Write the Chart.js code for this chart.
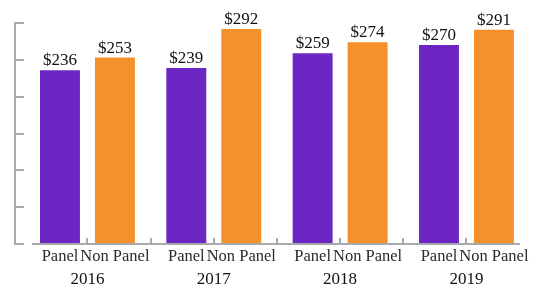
<!DOCTYPE html>
<html>
<head>
<meta charset="utf-8">
<script src="https://cdn.jsdelivr.net/npm/chart.js@4"></script>
<style>
  html, body { margin: 0; padding: 0; background: #ffffff; }
  #wrap { width: 538px; height: 289px; }
</style>
</head>
<body>
<div id="wrap"><canvas id="chart" width="538" height="289"></canvas></div>
<script>
// values
const years = ['2016', '2017', '2018', '2019'];
const groupNames = ['Panel', 'Non Panel'];
const panelValues = [236, 239, 259, 270];
const nonPanelValues = [253, 292, 274, 291];
const yMax = 300;
const yStep = 50;

const PURPLE = '#6c26c3';
const ORANGE = '#f4912a';
const AXIS = '#a9a9ad';

const CAT_PCT = 0.87;
const BAR_PCT = 0.727;
const subOffset = CAT_PCT / 4; // where each bar of a pair sits

Chart.defaults.font.family = '"Liberation Serif", "Times New Roman", serif';

// value labels above the bars ("$236")
const valueLabels = {
  id: 'valueLabels',
  afterDatasetsDraw(chart) {
    const ctx = chart.ctx;
    ctx.save();
    ctx.font = '17px "Liberation Serif", serif';
    ctx.fillStyle = '#111111';
    ctx.textAlign = 'center';
    ctx.textBaseline = 'alphabetic';
    chart.data.datasets.forEach((ds, di) => {
      chart.getDatasetMeta(di).data.forEach((bar, i) => {
        ctx.fillText('$' + ds.data[i].y, bar.x, bar.y - 5);
      });
    });
    ctx.restore();
  }
};

const xMin = -0.431, xMax = 3.416;

// small marks on the x axis line: centre of each pair and between pairs
const markValues = [];
years.forEach((y, i) => {
  markValues.push(i);
  if (i < years.length - 1) markValues.push(i + 0.5);
});

new Chart(document.getElementById('chart'), {
  type: 'bar',
  data: {
    datasets: [
      {
        label: groupNames[0],
        data: panelValues.map((v, i) => ({ x: i, y: v })),
        backgroundColor: PURPLE,
        xAxisID: 'x',
        yAxisID: 'y'
      },
      {
        label: groupNames[1],
        data: nonPanelValues.map((v, i) => ({ x: i, y: v })),
        backgroundColor: ORANGE,
        xAxisID: 'x',
        yAxisID: 'y'
      }
    ]
  },
  options: {
    responsive: false,
    animation: false,
    categoryPercentage: CAT_PCT,
    barPercentage: BAR_PCT,
    layout: { padding: { top: 23, left: 33, right: 19, bottom: 0 } },
    plugins: {
      legend: { display: false },
      tooltip: { enabled: false }
    },
    scales: {
      x: {
        type: 'linear',
        position: 'bottom',
        weight: 1,
        offset: false,
        min: xMin,
        max: xMax,
        afterBuildTicks: (scale) => {
          scale.ticks = years.map((y, i) => ({ value: i }));
        },
        afterFit: (scale) => { scale.height = 22; },
        ticks: {
          autoSkip: false,
          maxRotation: 0,
          padding: 3,
          color: '#111111',
          font: { size: 17, lineHeight: 1.1 },
          callback: (v) => years[v]
        },
        grid: { display: false, drawTicks: false, offset: false },
        border: { display: false }
      },
      xs: {
        type: 'linear',
        position: 'bottom',
        weight: 0,
        offset: false,
        min: xMin,
        max: xMax,
        afterBuildTicks: (scale) => {
          const t = [];
          years.forEach((y, i) => {
            t.push({ value: i - subOffset });
            t.push({ value: i + subOffset });
          });
          scale.ticks = t;
        },
        afterFit: (scale) => { scale.height = 23; },
        ticks: {
          autoSkip: false,
          maxRotation: 0,
          padding: 4,
          color: '#2b2b2b',
          font: { size: 16.5, lineHeight: 1.1 },
          callback: (v, i) => groupNames[i % 2]
        },
        grid: { display: false, drawTicks: false, offset: false },
        border: { display: true, color: AXIS, width: 2 }
      },
      xm: {
        type: 'linear',
        position: { y: 0 },
        offset: false,
        min: xMin,
        max: xMax,
        afterBuildTicks: (scale) => {
          scale.ticks = markValues.map(v => ({ value: v }));
        },
        afterFit: (scale) => { scale.height = 0; },
        ticks: { display: false },
        grid: {
          offset: false,
          drawOnChartArea: false,
          drawTicks: true,
          tickLength: -6,
          lineWidth: 2,
          color: AXIS
        },
        border: { display: false }
      },
      y: {
        type: 'linear',
        position: { x: xMin - 18 / 126.3 },
        min: 0,
        max: yMax,
        ticks: { stepSize: yStep, display: false },
        grid: {
          drawOnChartArea: false,
          tickLength: -10,
          lineWidth: 2,
          color: AXIS
        },
        border: { display: true, color: AXIS, width: 2 }
      }
    }
  },
  plugins: [valueLabels]
});
</script>
</body>
</html>
